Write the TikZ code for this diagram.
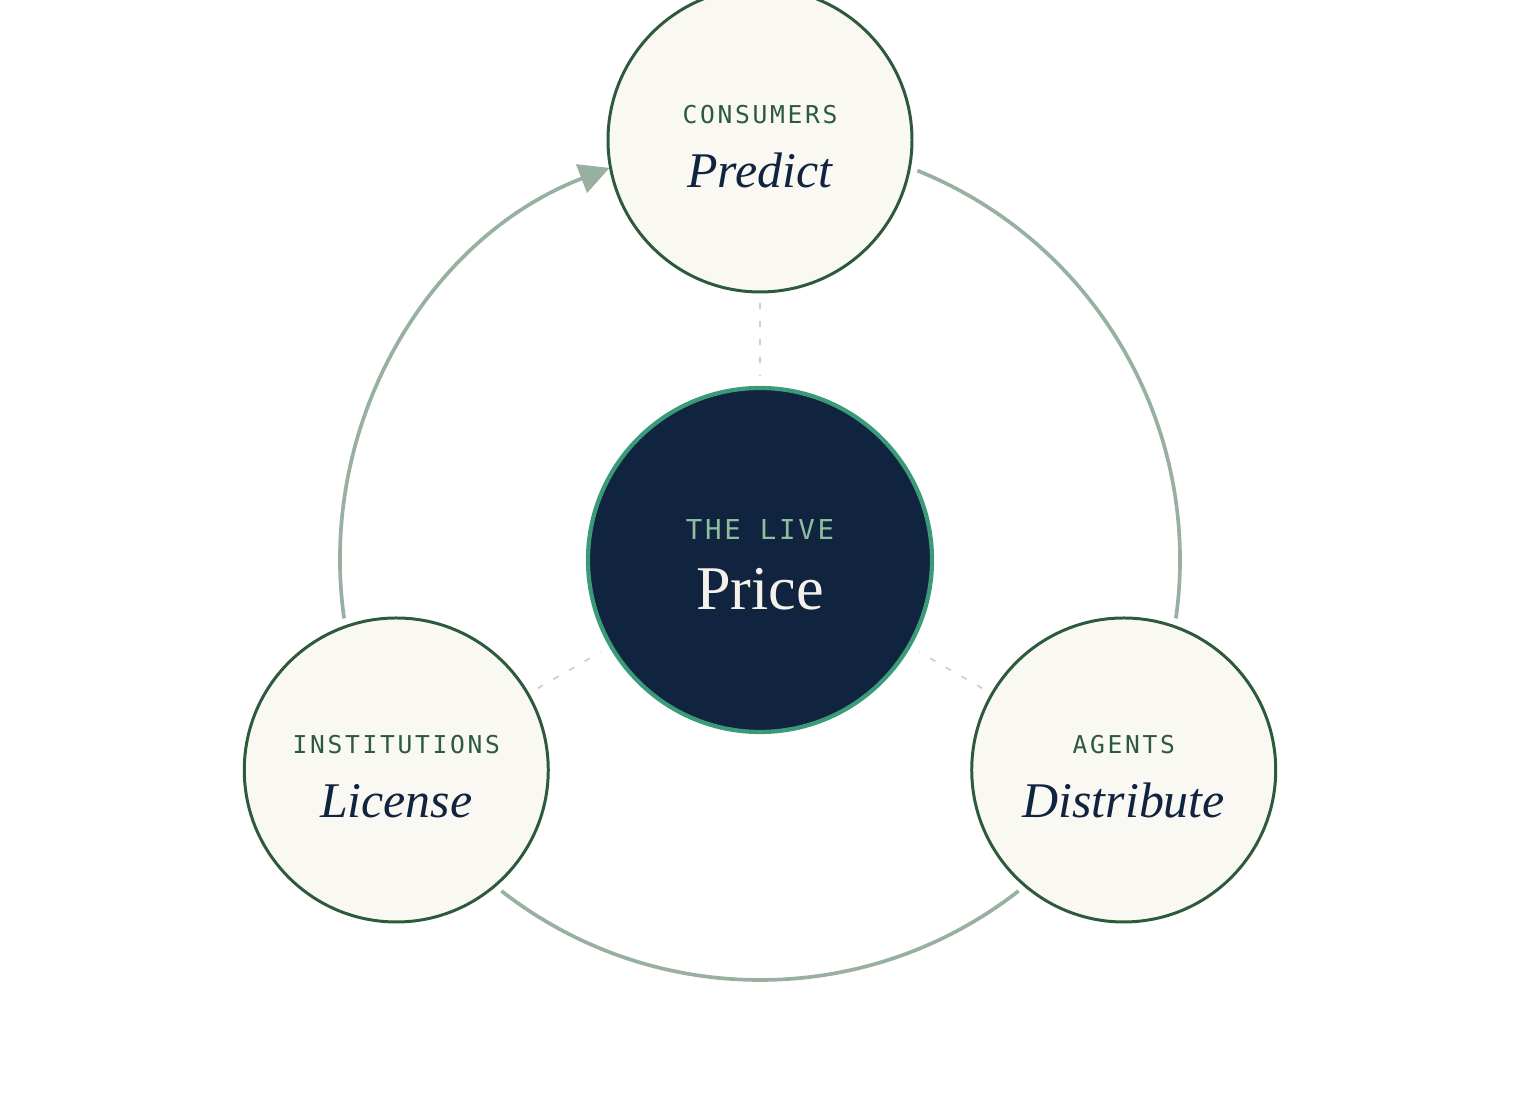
\documentclass[tikz,border=0pt]{standalone}
\usepackage{fontspec}
\setmainfont{Liberation Serif}
\newfontfamily\tagfont[LetterSpace=11]{DejaVu Sans Mono}
\newfontfamily\hubfont[LetterSpace=10]{DejaVu Sans Mono}
\usetikzlibrary{arrows.meta,calc}

\definecolor{ringc}{HTML}{97B0A0}
\definecolor{leaf}{HTML}{2D5A3C}
\definecolor{paper}{HTML}{F9F8F3}
\definecolor{navy}{HTML}{10233F}
\definecolor{teal}{HTML}{3A9B78}
\definecolor{mint}{HTML}{8DBF9E}
\definecolor{chalk}{HTML}{F3F1EA}
\definecolor{mist}{HTML}{C5D3CB}

\tikzset{
	outer/.style={circle, draw=leaf, line width=0.85pt, fill=paper, minimum size=3.04cm, inner sep=0pt},
	hub/.style={circle, draw=teal, line width=1.2pt, fill=navy, minimum size=3.44cm, inner sep=0pt},
	tag/.style={anchor=base, text=leaf, font=\tagfont\fontsize{7}{8}\selectfont},
	word/.style={anchor=base, text=navy, font=\itshape\fontsize{14.2}{16}\selectfont},
	link/.style={draw=mist, line width=0.5pt, dash pattern=on 0.6mm off 1.2mm, shorten >=1mm, shorten <=1mm},
	ringarc/.style={draw=ringc, line width=1.05pt}
}

\begin{document}
\begin{tikzpicture}
	\useasboundingbox (0,0) rectangle (15.2,11.2);
	\node[hub] (price) at (7.6,5.6) {};
	\node[anchor=base, text=mint, font=\hubfont\fontsize{7.8}{9}\selectfont] (live) at ([yshift=0.2cm]price.center) {THE LIVE};
	\node[anchor=base, text=chalk, font=\fontsize{17.7}{20}\selectfont] (pricetext) at ([yshift=-0.5cm]price.center) {Price};
	
	% ring between the three groups
	\draw[ringarc] (price.center) ++(68:4.2) arc[start angle=68, end angle=-8, radius=4.2];
	\draw[ringarc] (price.center) ++(-52:4.2) arc[start angle=-52, end angle=-128, radius=4.2];
	\draw[ringarc, -{Triangle[length=3mm, width=3mm]}] (price.center) ++(188:4.2) arc[start angle=188, end angle=111, radius=4.2];
	
	\foreach \n/\a/\t/\w in {cons/90/CONSUMERS/Predict, inst/210/INSTITUTIONS/License, agent/330/AGENTS/Distribute} {
		\node[outer] (\n) at ($(price.center)+(\a:4.2)$) {};
		\node[tag] (\n-tag) at ([yshift=0.165cm]\n.center) {\t};
		\node[word] (\n-word) at ([yshift=-0.475cm]\n.center) {\w};
		\draw[link] (\n) -- (price);
	}
\end{tikzpicture}
\end{document}
